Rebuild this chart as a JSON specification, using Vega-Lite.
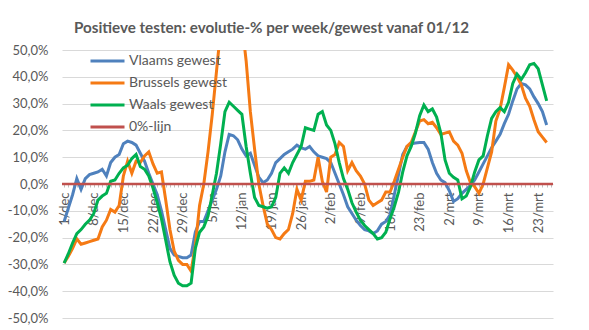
{
"$schema": "https://vega.github.io/schema/vega-lite/v6.json",
"width": 491, "height": 268,
"autosize": {"type": "none"},
"padding": {"left": 62, "top": 50, "right": 36, "bottom": 12},
"background": "white",
"title": {"text": "Positieve testen: evolutie-% per week/gewest vanaf 01/12", "font": "Lato", "fontSize": 15.2, "fontWeight": "bold", "color": "#595959", "anchor": "middle", "dx": -36, "offset": 8},
"config": {"view": {"stroke": null}, "axisY": {"labelOverlap": false}},
"datasets": {
"reeks": [
{"datum":"2020-12-01","gewest":"Vlaams gewest","pct":-14},{"datum":"2020-12-02","gewest":"Vlaams gewest","pct":-9},{"datum":"2020-12-03","gewest":"Vlaams gewest","pct":-4},{"datum":"2020-12-04","gewest":"Vlaams gewest","pct":2},{"datum":"2020-12-05","gewest":"Vlaams gewest","pct":-2},{"datum":"2020-12-06","gewest":"Vlaams gewest","pct":2},{"datum":"2020-12-07","gewest":"Vlaams gewest","pct":3.5},{"datum":"2020-12-08","gewest":"Vlaams gewest","pct":4},{"datum":"2020-12-09","gewest":"Vlaams gewest","pct":4.5},{"datum":"2020-12-10","gewest":"Vlaams gewest","pct":5.5},
{"datum":"2020-12-11","gewest":"Vlaams gewest","pct":3},{"datum":"2020-12-12","gewest":"Vlaams gewest","pct":8},{"datum":"2020-12-13","gewest":"Vlaams gewest","pct":10},{"datum":"2020-12-14","gewest":"Vlaams gewest","pct":11},{"datum":"2020-12-15","gewest":"Vlaams gewest","pct":15},{"datum":"2020-12-16","gewest":"Vlaams gewest","pct":16},{"datum":"2020-12-17","gewest":"Vlaams gewest","pct":15.5},{"datum":"2020-12-18","gewest":"Vlaams gewest","pct":14.5},{"datum":"2020-12-19","gewest":"Vlaams gewest","pct":11.5},{"datum":"2020-12-20","gewest":"Vlaams gewest","pct":8.5},
{"datum":"2020-12-21","gewest":"Vlaams gewest","pct":4},{"datum":"2020-12-22","gewest":"Vlaams gewest","pct":0},{"datum":"2020-12-23","gewest":"Vlaams gewest","pct":-4},{"datum":"2020-12-24","gewest":"Vlaams gewest","pct":-10},{"datum":"2020-12-25","gewest":"Vlaams gewest","pct":-17},{"datum":"2020-12-26","gewest":"Vlaams gewest","pct":-24},{"datum":"2020-12-27","gewest":"Vlaams gewest","pct":-26.5},{"datum":"2020-12-28","gewest":"Vlaams gewest","pct":-27},{"datum":"2020-12-29","gewest":"Vlaams gewest","pct":-27.5},{"datum":"2020-12-30","gewest":"Vlaams gewest","pct":-27.5},
{"datum":"2020-12-31","gewest":"Vlaams gewest","pct":-26.5},{"datum":"2021-01-01","gewest":"Vlaams gewest","pct":-18},{"datum":"2021-01-02","gewest":"Vlaams gewest","pct":-14},{"datum":"2021-01-03","gewest":"Vlaams gewest","pct":-14},{"datum":"2021-01-04","gewest":"Vlaams gewest","pct":-10},{"datum":"2021-01-05","gewest":"Vlaams gewest","pct":-6},{"datum":"2021-01-06","gewest":"Vlaams gewest","pct":-2},{"datum":"2021-01-07","gewest":"Vlaams gewest","pct":3},{"datum":"2021-01-08","gewest":"Vlaams gewest","pct":12},{"datum":"2021-01-09","gewest":"Vlaams gewest","pct":18.5},
{"datum":"2021-01-10","gewest":"Vlaams gewest","pct":18},{"datum":"2021-01-11","gewest":"Vlaams gewest","pct":16.5},{"datum":"2021-01-12","gewest":"Vlaams gewest","pct":13},{"datum":"2021-01-13","gewest":"Vlaams gewest","pct":10.5},{"datum":"2021-01-14","gewest":"Vlaams gewest","pct":11.5},{"datum":"2021-01-15","gewest":"Vlaams gewest","pct":7},{"datum":"2021-01-16","gewest":"Vlaams gewest","pct":2.5},{"datum":"2021-01-17","gewest":"Vlaams gewest","pct":0.5},{"datum":"2021-01-18","gewest":"Vlaams gewest","pct":1.5},{"datum":"2021-01-19","gewest":"Vlaams gewest","pct":4},
{"datum":"2021-01-20","gewest":"Vlaams gewest","pct":8},{"datum":"2021-01-21","gewest":"Vlaams gewest","pct":9.5},{"datum":"2021-01-22","gewest":"Vlaams gewest","pct":11},{"datum":"2021-01-23","gewest":"Vlaams gewest","pct":12},{"datum":"2021-01-24","gewest":"Vlaams gewest","pct":13},{"datum":"2021-01-25","gewest":"Vlaams gewest","pct":14.5},{"datum":"2021-01-26","gewest":"Vlaams gewest","pct":13.5},{"datum":"2021-01-27","gewest":"Vlaams gewest","pct":13},{"datum":"2021-01-28","gewest":"Vlaams gewest","pct":14},{"datum":"2021-01-29","gewest":"Vlaams gewest","pct":12},
{"datum":"2021-01-30","gewest":"Vlaams gewest","pct":10.5},{"datum":"2021-01-31","gewest":"Vlaams gewest","pct":10},{"datum":"2021-02-01","gewest":"Vlaams gewest","pct":9.5},{"datum":"2021-02-02","gewest":"Vlaams gewest","pct":8},{"datum":"2021-02-03","gewest":"Vlaams gewest","pct":4},{"datum":"2021-02-04","gewest":"Vlaams gewest","pct":0},{"datum":"2021-02-05","gewest":"Vlaams gewest","pct":-4},{"datum":"2021-02-06","gewest":"Vlaams gewest","pct":-8.5},{"datum":"2021-02-07","gewest":"Vlaams gewest","pct":-11},{"datum":"2021-02-08","gewest":"Vlaams gewest","pct":-13.5},
{"datum":"2021-02-09","gewest":"Vlaams gewest","pct":-15.5},{"datum":"2021-02-10","gewest":"Vlaams gewest","pct":-17},{"datum":"2021-02-11","gewest":"Vlaams gewest","pct":-17.5},{"datum":"2021-02-12","gewest":"Vlaams gewest","pct":-18.5},{"datum":"2021-02-13","gewest":"Vlaams gewest","pct":-17.5},{"datum":"2021-02-14","gewest":"Vlaams gewest","pct":-15},{"datum":"2021-02-15","gewest":"Vlaams gewest","pct":-14},{"datum":"2021-02-16","gewest":"Vlaams gewest","pct":-11.5},{"datum":"2021-02-17","gewest":"Vlaams gewest","pct":-4},{"datum":"2021-02-18","gewest":"Vlaams gewest","pct":3.5},
{"datum":"2021-02-19","gewest":"Vlaams gewest","pct":11},{"datum":"2021-02-20","gewest":"Vlaams gewest","pct":14},{"datum":"2021-02-21","gewest":"Vlaams gewest","pct":15},{"datum":"2021-02-22","gewest":"Vlaams gewest","pct":15.3},{"datum":"2021-02-23","gewest":"Vlaams gewest","pct":15.5},{"datum":"2021-02-24","gewest":"Vlaams gewest","pct":15.5},{"datum":"2021-02-25","gewest":"Vlaams gewest","pct":13},{"datum":"2021-02-26","gewest":"Vlaams gewest","pct":8},{"datum":"2021-02-27","gewest":"Vlaams gewest","pct":4},{"datum":"2021-02-28","gewest":"Vlaams gewest","pct":1.5},
{"datum":"2021-03-01","gewest":"Vlaams gewest","pct":0.5},{"datum":"2021-03-02","gewest":"Vlaams gewest","pct":-2.5},{"datum":"2021-03-03","gewest":"Vlaams gewest","pct":-6.5},{"datum":"2021-03-04","gewest":"Vlaams gewest","pct":-5.5},{"datum":"2021-03-05","gewest":"Vlaams gewest","pct":-3.5},{"datum":"2021-03-06","gewest":"Vlaams gewest","pct":-2},{"datum":"2021-03-07","gewest":"Vlaams gewest","pct":-0.5},{"datum":"2021-03-08","gewest":"Vlaams gewest","pct":1.5},{"datum":"2021-03-09","gewest":"Vlaams gewest","pct":4.5},{"datum":"2021-03-10","gewest":"Vlaams gewest","pct":7.5},
{"datum":"2021-03-11","gewest":"Vlaams gewest","pct":10.5},{"datum":"2021-03-12","gewest":"Vlaams gewest","pct":13.5},{"datum":"2021-03-13","gewest":"Vlaams gewest","pct":16},{"datum":"2021-03-14","gewest":"Vlaams gewest","pct":18.5},{"datum":"2021-03-15","gewest":"Vlaams gewest","pct":22.5},{"datum":"2021-03-16","gewest":"Vlaams gewest","pct":26},{"datum":"2021-03-17","gewest":"Vlaams gewest","pct":31},{"datum":"2021-03-18","gewest":"Vlaams gewest","pct":35.5},{"datum":"2021-03-19","gewest":"Vlaams gewest","pct":37.5},{"datum":"2021-03-20","gewest":"Vlaams gewest","pct":37},
{"datum":"2021-03-21","gewest":"Vlaams gewest","pct":35.5},{"datum":"2021-03-22","gewest":"Vlaams gewest","pct":32.5},{"datum":"2021-03-23","gewest":"Vlaams gewest","pct":30},{"datum":"2021-03-24","gewest":"Vlaams gewest","pct":27},{"datum":"2021-03-25","gewest":"Vlaams gewest","pct":22},

{"datum":"2020-12-01","gewest":"Brussels gewest","pct":-29.5},{"datum":"2020-12-02","gewest":"Brussels gewest","pct":-27},{"datum":"2020-12-03","gewest":"Brussels gewest","pct":-24},{"datum":"2020-12-04","gewest":"Brussels gewest","pct":-20.5},{"datum":"2020-12-05","gewest":"Brussels gewest","pct":-22.5},{"datum":"2020-12-06","gewest":"Brussels gewest","pct":-22},{"datum":"2020-12-07","gewest":"Brussels gewest","pct":-21.5},{"datum":"2020-12-08","gewest":"Brussels gewest","pct":-21},{"datum":"2020-12-09","gewest":"Brussels gewest","pct":-20.5},{"datum":"2020-12-10","gewest":"Brussels gewest","pct":-16},
{"datum":"2020-12-11","gewest":"Brussels gewest","pct":-13.5},{"datum":"2020-12-12","gewest":"Brussels gewest","pct":-9.5},{"datum":"2020-12-13","gewest":"Brussels gewest","pct":-10.5},{"datum":"2020-12-14","gewest":"Brussels gewest","pct":-8},{"datum":"2020-12-15","gewest":"Brussels gewest","pct":3},{"datum":"2020-12-16","gewest":"Brussels gewest","pct":8.5},{"datum":"2020-12-17","gewest":"Brussels gewest","pct":4},{"datum":"2020-12-18","gewest":"Brussels gewest","pct":8.5},{"datum":"2020-12-19","gewest":"Brussels gewest","pct":8},{"datum":"2020-12-20","gewest":"Brussels gewest","pct":10.5},
{"datum":"2020-12-21","gewest":"Brussels gewest","pct":12},{"datum":"2020-12-22","gewest":"Brussels gewest","pct":7.5},{"datum":"2020-12-23","gewest":"Brussels gewest","pct":4},{"datum":"2020-12-24","gewest":"Brussels gewest","pct":4.5},{"datum":"2020-12-25","gewest":"Brussels gewest","pct":-6},{"datum":"2020-12-26","gewest":"Brussels gewest","pct":-17},{"datum":"2020-12-27","gewest":"Brussels gewest","pct":-25},{"datum":"2020-12-28","gewest":"Brussels gewest","pct":-28.5},{"datum":"2020-12-29","gewest":"Brussels gewest","pct":-30},{"datum":"2020-12-30","gewest":"Brussels gewest","pct":-30},
{"datum":"2020-12-31","gewest":"Brussels gewest","pct":-32.5},{"datum":"2021-01-01","gewest":"Brussels gewest","pct":-23},{"datum":"2021-01-02","gewest":"Brussels gewest","pct":-8},{"datum":"2021-01-03","gewest":"Brussels gewest","pct":0},{"datum":"2021-01-04","gewest":"Brussels gewest","pct":12},{"datum":"2021-01-05","gewest":"Brussels gewest","pct":26},{"datum":"2021-01-06","gewest":"Brussels gewest","pct":42},{"datum":"2021-01-07","gewest":"Brussels gewest","pct":58},{"datum":"2021-01-08","gewest":"Brussels gewest","pct":66},{"datum":"2021-01-09","gewest":"Brussels gewest","pct":70},
{"datum":"2021-01-10","gewest":"Brussels gewest","pct":70},{"datum":"2021-01-11","gewest":"Brussels gewest","pct":66},{"datum":"2021-01-12","gewest":"Brussels gewest","pct":60},{"datum":"2021-01-13","gewest":"Brussels gewest","pct":46},{"datum":"2021-01-14","gewest":"Brussels gewest","pct":27},{"datum":"2021-01-15","gewest":"Brussels gewest","pct":13},{"datum":"2021-01-16","gewest":"Brussels gewest","pct":0},{"datum":"2021-01-17","gewest":"Brussels gewest","pct":-8},{"datum":"2021-01-18","gewest":"Brussels gewest","pct":-15},{"datum":"2021-01-19","gewest":"Brussels gewest","pct":-17},
{"datum":"2021-01-20","gewest":"Brussels gewest","pct":-20},{"datum":"2021-01-21","gewest":"Brussels gewest","pct":-20.5},{"datum":"2021-01-22","gewest":"Brussels gewest","pct":-18.5},{"datum":"2021-01-23","gewest":"Brussels gewest","pct":-17},{"datum":"2021-01-24","gewest":"Brussels gewest","pct":-11},{"datum":"2021-01-25","gewest":"Brussels gewest","pct":-2},{"datum":"2021-01-26","gewest":"Brussels gewest","pct":-6},{"datum":"2021-01-27","gewest":"Brussels gewest","pct":1},{"datum":"2021-01-28","gewest":"Brussels gewest","pct":1},{"datum":"2021-01-29","gewest":"Brussels gewest","pct":1.5},
{"datum":"2021-01-30","gewest":"Brussels gewest","pct":10},{"datum":"2021-01-31","gewest":"Brussels gewest","pct":1},{"datum":"2021-02-01","gewest":"Brussels gewest","pct":-3},{"datum":"2021-02-02","gewest":"Brussels gewest","pct":10},{"datum":"2021-02-03","gewest":"Brussels gewest","pct":11},{"datum":"2021-02-04","gewest":"Brussels gewest","pct":15.5},{"datum":"2021-02-05","gewest":"Brussels gewest","pct":14},{"datum":"2021-02-06","gewest":"Brussels gewest","pct":5},{"datum":"2021-02-07","gewest":"Brussels gewest","pct":8},{"datum":"2021-02-08","gewest":"Brussels gewest","pct":5},
{"datum":"2021-02-09","gewest":"Brussels gewest","pct":3},{"datum":"2021-02-10","gewest":"Brussels gewest","pct":0},{"datum":"2021-02-11","gewest":"Brussels gewest","pct":-6},{"datum":"2021-02-12","gewest":"Brussels gewest","pct":-8},{"datum":"2021-02-13","gewest":"Brussels gewest","pct":-7},{"datum":"2021-02-14","gewest":"Brussels gewest","pct":-6},{"datum":"2021-02-15","gewest":"Brussels gewest","pct":-3},{"datum":"2021-02-16","gewest":"Brussels gewest","pct":-3},{"datum":"2021-02-17","gewest":"Brussels gewest","pct":1},{"datum":"2021-02-18","gewest":"Brussels gewest","pct":5.5},
{"datum":"2021-02-19","gewest":"Brussels gewest","pct":10},{"datum":"2021-02-20","gewest":"Brussels gewest","pct":14},{"datum":"2021-02-21","gewest":"Brussels gewest","pct":15.5},{"datum":"2021-02-22","gewest":"Brussels gewest","pct":19.5},{"datum":"2021-02-23","gewest":"Brussels gewest","pct":23.5},{"datum":"2021-02-24","gewest":"Brussels gewest","pct":24},{"datum":"2021-02-25","gewest":"Brussels gewest","pct":22.5},{"datum":"2021-02-26","gewest":"Brussels gewest","pct":23},{"datum":"2021-02-27","gewest":"Brussels gewest","pct":21},{"datum":"2021-02-28","gewest":"Brussels gewest","pct":18.5},
{"datum":"2021-03-01","gewest":"Brussels gewest","pct":19},{"datum":"2021-03-02","gewest":"Brussels gewest","pct":19.5},{"datum":"2021-03-03","gewest":"Brussels gewest","pct":16},{"datum":"2021-03-04","gewest":"Brussels gewest","pct":14.5},{"datum":"2021-03-05","gewest":"Brussels gewest","pct":11.5},{"datum":"2021-03-06","gewest":"Brussels gewest","pct":5},{"datum":"2021-03-07","gewest":"Brussels gewest","pct":0.5},{"datum":"2021-03-08","gewest":"Brussels gewest","pct":-1},{"datum":"2021-03-09","gewest":"Brussels gewest","pct":-3.5},{"datum":"2021-03-10","gewest":"Brussels gewest","pct":0},
{"datum":"2021-03-11","gewest":"Brussels gewest","pct":6},{"datum":"2021-03-12","gewest":"Brussels gewest","pct":12},{"datum":"2021-03-13","gewest":"Brussels gewest","pct":23.5},{"datum":"2021-03-14","gewest":"Brussels gewest","pct":28},{"datum":"2021-03-15","gewest":"Brussels gewest","pct":36},{"datum":"2021-03-16","gewest":"Brussels gewest","pct":44.5},{"datum":"2021-03-17","gewest":"Brussels gewest","pct":42.5},{"datum":"2021-03-18","gewest":"Brussels gewest","pct":40},{"datum":"2021-03-19","gewest":"Brussels gewest","pct":37},{"datum":"2021-03-20","gewest":"Brussels gewest","pct":32},
{"datum":"2021-03-21","gewest":"Brussels gewest","pct":29},{"datum":"2021-03-22","gewest":"Brussels gewest","pct":24},{"datum":"2021-03-23","gewest":"Brussels gewest","pct":19.5},{"datum":"2021-03-24","gewest":"Brussels gewest","pct":17.5},{"datum":"2021-03-25","gewest":"Brussels gewest","pct":15.5},

{"datum":"2020-12-01","gewest":"Waals gewest","pct":-29.5},{"datum":"2020-12-02","gewest":"Waals gewest","pct":-26},{"datum":"2020-12-03","gewest":"Waals gewest","pct":-22},{"datum":"2020-12-04","gewest":"Waals gewest","pct":-18.5},{"datum":"2020-12-05","gewest":"Waals gewest","pct":-17},{"datum":"2020-12-06","gewest":"Waals gewest","pct":-15},{"datum":"2020-12-07","gewest":"Waals gewest","pct":-13.5},{"datum":"2020-12-08","gewest":"Waals gewest","pct":-11},{"datum":"2020-12-09","gewest":"Waals gewest","pct":-6},{"datum":"2020-12-10","gewest":"Waals gewest","pct":-4.5},
{"datum":"2020-12-11","gewest":"Waals gewest","pct":-3.5},{"datum":"2020-12-12","gewest":"Waals gewest","pct":1},{"datum":"2020-12-13","gewest":"Waals gewest","pct":1.5},{"datum":"2020-12-14","gewest":"Waals gewest","pct":4},{"datum":"2020-12-15","gewest":"Waals gewest","pct":6},{"datum":"2020-12-16","gewest":"Waals gewest","pct":7},{"datum":"2020-12-17","gewest":"Waals gewest","pct":9.5},{"datum":"2020-12-18","gewest":"Waals gewest","pct":11},{"datum":"2020-12-19","gewest":"Waals gewest","pct":6.5},{"datum":"2020-12-20","gewest":"Waals gewest","pct":5.5},
{"datum":"2020-12-21","gewest":"Waals gewest","pct":3},{"datum":"2020-12-22","gewest":"Waals gewest","pct":-1.5},{"datum":"2020-12-23","gewest":"Waals gewest","pct":-7},{"datum":"2020-12-24","gewest":"Waals gewest","pct":-13},{"datum":"2020-12-25","gewest":"Waals gewest","pct":-21},{"datum":"2020-12-26","gewest":"Waals gewest","pct":-29},{"datum":"2020-12-27","gewest":"Waals gewest","pct":-34},{"datum":"2020-12-28","gewest":"Waals gewest","pct":-37},{"datum":"2020-12-29","gewest":"Waals gewest","pct":-38},{"datum":"2020-12-30","gewest":"Waals gewest","pct":-38},
{"datum":"2020-12-31","gewest":"Waals gewest","pct":-37},{"datum":"2021-01-01","gewest":"Waals gewest","pct":-24},{"datum":"2021-01-02","gewest":"Waals gewest","pct":-18},{"datum":"2021-01-03","gewest":"Waals gewest","pct":-16},{"datum":"2021-01-04","gewest":"Waals gewest","pct":-12},{"datum":"2021-01-05","gewest":"Waals gewest","pct":-4},{"datum":"2021-01-06","gewest":"Waals gewest","pct":4},{"datum":"2021-01-07","gewest":"Waals gewest","pct":15},{"datum":"2021-01-08","gewest":"Waals gewest","pct":27},{"datum":"2021-01-09","gewest":"Waals gewest","pct":30.5},
{"datum":"2021-01-10","gewest":"Waals gewest","pct":29},{"datum":"2021-01-11","gewest":"Waals gewest","pct":27.5},{"datum":"2021-01-12","gewest":"Waals gewest","pct":26},{"datum":"2021-01-13","gewest":"Waals gewest","pct":14},{"datum":"2021-01-14","gewest":"Waals gewest","pct":4},{"datum":"2021-01-15","gewest":"Waals gewest","pct":-5},{"datum":"2021-01-16","gewest":"Waals gewest","pct":-8},{"datum":"2021-01-17","gewest":"Waals gewest","pct":-8.5},{"datum":"2021-01-18","gewest":"Waals gewest","pct":-9},{"datum":"2021-01-19","gewest":"Waals gewest","pct":-8.5},
{"datum":"2021-01-20","gewest":"Waals gewest","pct":-5},{"datum":"2021-01-21","gewest":"Waals gewest","pct":4},{"datum":"2021-01-22","gewest":"Waals gewest","pct":6},{"datum":"2021-01-23","gewest":"Waals gewest","pct":4},{"datum":"2021-01-24","gewest":"Waals gewest","pct":8},{"datum":"2021-01-25","gewest":"Waals gewest","pct":11},{"datum":"2021-01-26","gewest":"Waals gewest","pct":14},{"datum":"2021-01-27","gewest":"Waals gewest","pct":21},{"datum":"2021-01-28","gewest":"Waals gewest","pct":20.5},{"datum":"2021-01-29","gewest":"Waals gewest","pct":20},
{"datum":"2021-01-30","gewest":"Waals gewest","pct":26},{"datum":"2021-01-31","gewest":"Waals gewest","pct":27},{"datum":"2021-02-01","gewest":"Waals gewest","pct":22},{"datum":"2021-02-02","gewest":"Waals gewest","pct":20},{"datum":"2021-02-03","gewest":"Waals gewest","pct":15},{"datum":"2021-02-04","gewest":"Waals gewest","pct":8},{"datum":"2021-02-05","gewest":"Waals gewest","pct":2},{"datum":"2021-02-06","gewest":"Waals gewest","pct":-2},{"datum":"2021-02-07","gewest":"Waals gewest","pct":-7},{"datum":"2021-02-08","gewest":"Waals gewest","pct":-10.5},
{"datum":"2021-02-09","gewest":"Waals gewest","pct":-13.5},{"datum":"2021-02-10","gewest":"Waals gewest","pct":-15.5},{"datum":"2021-02-11","gewest":"Waals gewest","pct":-17},{"datum":"2021-02-12","gewest":"Waals gewest","pct":-18.5},{"datum":"2021-02-13","gewest":"Waals gewest","pct":-20.5},{"datum":"2021-02-14","gewest":"Waals gewest","pct":-20},{"datum":"2021-02-15","gewest":"Waals gewest","pct":-18},{"datum":"2021-02-16","gewest":"Waals gewest","pct":-13},{"datum":"2021-02-17","gewest":"Waals gewest","pct":-8.5},{"datum":"2021-02-18","gewest":"Waals gewest","pct":-3},
{"datum":"2021-02-19","gewest":"Waals gewest","pct":4.5},{"datum":"2021-02-20","gewest":"Waals gewest","pct":10.5},{"datum":"2021-02-21","gewest":"Waals gewest","pct":14},{"datum":"2021-02-22","gewest":"Waals gewest","pct":19},{"datum":"2021-02-23","gewest":"Waals gewest","pct":25.5},{"datum":"2021-02-24","gewest":"Waals gewest","pct":29.5},{"datum":"2021-02-25","gewest":"Waals gewest","pct":27},{"datum":"2021-02-26","gewest":"Waals gewest","pct":28},{"datum":"2021-02-27","gewest":"Waals gewest","pct":25},{"datum":"2021-02-28","gewest":"Waals gewest","pct":19},
{"datum":"2021-03-01","gewest":"Waals gewest","pct":9},{"datum":"2021-03-02","gewest":"Waals gewest","pct":4},{"datum":"2021-03-03","gewest":"Waals gewest","pct":2.5},{"datum":"2021-03-04","gewest":"Waals gewest","pct":1.5},{"datum":"2021-03-05","gewest":"Waals gewest","pct":-5.5},{"datum":"2021-03-06","gewest":"Waals gewest","pct":-4.5},{"datum":"2021-03-07","gewest":"Waals gewest","pct":-1},{"datum":"2021-03-08","gewest":"Waals gewest","pct":4.5},{"datum":"2021-03-09","gewest":"Waals gewest","pct":9},{"datum":"2021-03-10","gewest":"Waals gewest","pct":10.5},
{"datum":"2021-03-11","gewest":"Waals gewest","pct":18},{"datum":"2021-03-12","gewest":"Waals gewest","pct":24.5},{"datum":"2021-03-13","gewest":"Waals gewest","pct":27},{"datum":"2021-03-14","gewest":"Waals gewest","pct":28.5},{"datum":"2021-03-15","gewest":"Waals gewest","pct":27},{"datum":"2021-03-16","gewest":"Waals gewest","pct":30.5},{"datum":"2021-03-17","gewest":"Waals gewest","pct":37.5},{"datum":"2021-03-18","gewest":"Waals gewest","pct":41},{"datum":"2021-03-19","gewest":"Waals gewest","pct":39},{"datum":"2021-03-20","gewest":"Waals gewest","pct":41.5},
{"datum":"2021-03-21","gewest":"Waals gewest","pct":44.5},{"datum":"2021-03-22","gewest":"Waals gewest","pct":45},{"datum":"2021-03-23","gewest":"Waals gewest","pct":43},{"datum":"2021-03-24","gewest":"Waals gewest","pct":37},{"datum":"2021-03-25","gewest":"Waals gewest","pct":31}
],
"nullijn": [{"gewest":"0%-lijn","pct":0}]
},
"encoding": {
"y": {"field": "pct", "type": "quantitative",
"scale": {"domain": [-50, 50], "nice": false},
"axis": {"title": null, "values": [-50, -40, -30, -20, -10, 0, 10, 20, 30, 40, 50], "domain": false, "ticks": false,
"gridColor": "#D9D9D9", "gridWidth": 1, "labelPadding": 14, "labelOverlap": false, "labelBound": false, "labelFlush": false,
"labelFont": "Lato", "labelFontSize": 13, "labelColor": "#595959",
"labelExpr": "(datum.value < 0 ? '-' : '') + replace(format(abs(datum.value), '.1f'), '.', ',') + '%'"}},
"color": {"field": "gewest", "type": "nominal",
"scale": {"domain": ["Vlaams gewest", "Brussels gewest", "Waals gewest", "0%-lijn"], "range": ["#4F81BD", "#F57A14", "#00B050", "#C0504D"]},
"legend": {"orient": "none", "legendX": 27, "legendY": 0, "title": null, "padding": 0,
"symbolType": "stroke", "symbolSize": 1156, "symbolStrokeWidth": 3, "clipHeight": 22, "rowPadding": 0,
"labelFont": "Lato", "labelFontSize": 14, "labelColor": "#595959", "labelOffset": 3}}
},
"layer": [
{
"data": {"name": "reeks"},
"mark": {"type": "line", "strokeWidth": 3, "clip": true},
"encoding": {
"x": {"field": "datum", "type": "temporal",
"scale": {"type": "utc", "domain": [{"year": 2020, "month": 11, "date": 30, "hours": 12, "utc": true}, {"year": 2021, "month": 3, "date": 26, "hours": 12, "utc": true}]},
"axis": {"orient": "bottom", "offset": -134, "title": null, "grid": false, "domain": false,
"tickCount": {"interval": "day", "step": 1}, "tickSize": 3, "tickColor": "#BFBFBF",
"labelAngle": -90, "labelPadding": 5, "labelOverlap": false, "labelBound": false, "labelFlush": false,
"labelFont": "Lato", "labelFontSize": 13, "labelColor": "#595959",
"labelExpr": "round((datum.value - utc(2020,11,1)) / 86400000) % 7 == 0 ? utcdate(datum.value) + '/' + ['jan','feb','mrt','apr','mei','jun','jul','aug','sep','okt','nov','dec'][utcmonth(datum.value)] : ''"}}
}
},
{
"data": {"name": "nullijn"},
"mark": {"type": "rule", "strokeWidth": 2.3},
"encoding": {}
}
]
}
